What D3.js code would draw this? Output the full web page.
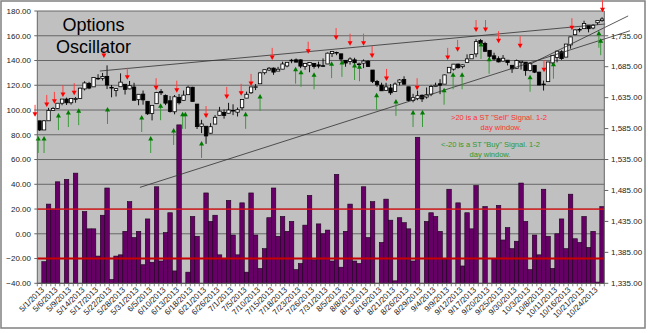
<!DOCTYPE html>
<html><head><meta charset="utf-8">
<script src="https://cdn.jsdelivr.net/npm/d3@7"></script>
<style>
html,body{margin:0;padding:0;background:#fff;}
svg{display:block;font-family:"Liberation Sans",Arial,sans-serif;}
</style></head><body>
<svg id="chart" width="648" height="333"></svg>
<script>
// Trading days, May 1 – Oct 28, 2013
const dates = ["5/1/2013","5/2/2013","5/3/2013","5/6/2013","5/7/2013","5/8/2013","5/9/2013","5/10/2013","5/13/2013","5/14/2013",
"5/15/2013","5/16/2013","5/17/2013","5/20/2013","5/21/2013","5/22/2013","5/23/2013","5/24/2013","5/28/2013","5/29/2013",
"5/30/2013","5/31/2013","6/3/2013","6/4/2013","6/5/2013","6/6/2013","6/7/2013","6/10/2013","6/11/2013","6/12/2013",
"6/13/2013","6/14/2013","6/17/2013","6/18/2013","6/19/2013","6/20/2013","6/21/2013","6/24/2013","6/25/2013","6/26/2013",
"6/27/2013","6/28/2013","7/1/2013","7/2/2013","7/3/2013","7/5/2013","7/8/2013","7/9/2013","7/10/2013","7/11/2013",
"7/12/2013","7/15/2013","7/16/2013","7/17/2013","7/18/2013","7/19/2013","7/22/2013","7/23/2013","7/24/2013","7/25/2013",
"7/26/2013","7/29/2013","7/30/2013","7/31/2013","8/1/2013","8/2/2013","8/5/2013","8/6/2013","8/7/2013","8/8/2013",
"8/9/2013","8/12/2013","8/13/2013","8/14/2013","8/15/2013","8/16/2013","8/19/2013","8/20/2013","8/21/2013","8/22/2013",
"8/23/2013","8/26/2013","8/27/2013","8/28/2013","8/29/2013","8/30/2013","9/3/2013","9/4/2013","9/5/2013","9/6/2013",
"9/9/2013","9/10/2013","9/11/2013","9/12/2013","9/13/2013","9/16/2013","9/17/2013","9/18/2013","9/19/2013","9/20/2013",
"9/23/2013","9/24/2013","9/25/2013","9/26/2013","9/27/2013","9/30/2013","10/1/2013","10/2/2013","10/3/2013","10/4/2013",
"10/7/2013","10/8/2013","10/9/2013","10/10/2013","10/11/2013","10/14/2013","10/15/2013","10/16/2013","10/17/2013","10/18/2013",
"10/21/2013","10/22/2013","10/23/2013","10/24/2013","10/25/2013","10/28/2013"];

// S&P 500 daily candles (right axis)
const open = [1597.55,1582.77,1597.60,1614.40,1617.55,1625.95,1632.69,1626.69,1632.10,1633.75,
1649.13,1658.07,1652.45,1665.71,1666.20,1669.39,1651.62,1646.67,1652.63,1656.57,
1649.14,1652.13,1631.71,1640.73,1629.05,1609.29,1625.27,1644.67,1638.64,1629.94,
1612.15,1635.52,1630.64,1639.77,1651.83,1624.62,1588.62,1588.77,1577.52,1592.27,
1606.44,1611.12,1609.78,1614.29,1611.48,1618.65,1634.20,1642.89,1652.09,1657.41,
1675.26,1679.59,1682.70,1677.91,1681.05,1686.15,1694.41,1696.06,1696.06,1685.21,
1687.31,1690.32,1687.92,1686.61,1689.42,1706.10,1708.01,1705.79,1695.30,1693.35,
1696.10,1688.37,1690.65,1693.88,1679.61,1661.22,1655.25,1646.81,1650.66,1645.03,
1659.92,1664.29,1652.54,1630.25,1633.50,1638.89,1635.95,1640.72,1653.28,1657.44,
1656.85,1675.11,1681.04,1689.21,1685.04,1691.70,1697.73,1705.74,1727.34,1722.44,
1711.44,1702.60,1698.02,1694.05,1695.52,1687.26,1682.41,1691.90,1692.35,1678.79,
1687.15,1676.22,1656.99,1660.88,1691.09,1699.86,1709.17,1700.49,1720.17,1736.72,
1745.20,1746.48,1752.27,1747.48,1756.01,1759.42];
const high = [1597.55,1598.60,1618.46,1619.77,1626.03,1632.78,1635.01,1633.70,1636.00,1651.10,
1661.49,1660.51,1667.47,1672.84,1674.93,1687.18,1655.50,1649.78,1674.21,1656.57,
1661.91,1658.99,1640.42,1646.53,1629.31,1622.56,1644.40,1648.69,1640.13,1637.71,
1639.25,1640.80,1646.50,1654.19,1652.45,1624.62,1599.19,1588.77,1593.79,1606.83,
1620.07,1615.94,1626.61,1624.26,1618.97,1632.07,1644.68,1652.36,1656.92,1676.63,
1680.19,1684.51,1683.73,1684.75,1693.12,1692.09,1697.61,1698.38,1696.81,1690.94,
1691.85,1690.92,1693.19,1698.43,1707.85,1709.67,1709.24,1705.79,1695.30,1700.18,
1699.42,1691.49,1696.81,1695.52,1679.61,1663.60,1659.18,1658.92,1656.99,1659.55,
1664.85,1669.51,1652.54,1641.18,1646.41,1640.08,1651.35,1655.72,1659.17,1664.83,
1672.40,1684.09,1689.13,1689.97,1688.73,1704.95,1705.52,1729.44,1729.86,1725.23,
1711.44,1707.63,1701.71,1703.85,1695.52,1687.26,1696.55,1693.87,1692.35,1691.94,
1687.15,1676.79,1662.47,1692.56,1703.44,1711.03,1711.57,1721.76,1733.45,1745.31,
1747.79,1759.33,1752.27,1753.94,1759.82,1764.99];
const low = [1581.28,1582.77,1597.60,1614.21,1616.64,1622.70,1623.09,1623.71,1626.74,1633.75,
1646.68,1648.60,1652.45,1663.52,1662.67,1648.86,1635.53,1636.88,1652.63,1640.05,
1648.61,1630.74,1622.72,1623.62,1607.09,1598.23,1625.27,1639.26,1622.92,1610.92,
1608.07,1623.96,1630.34,1639.77,1628.91,1584.32,1577.70,1560.33,1577.09,1592.27,
1606.44,1601.06,1609.78,1606.77,1604.57,1614.71,1634.20,1641.10,1647.17,1657.41,
1672.33,1677.89,1671.84,1677.91,1681.05,1684.08,1690.67,1692.13,1682.62,1680.07,
1676.03,1681.86,1682.42,1684.94,1689.42,1700.68,1703.55,1693.29,1684.91,1688.38,
1686.02,1683.35,1682.62,1684.83,1658.59,1652.61,1646.08,1646.08,1639.43,1645.03,
1654.81,1656.02,1629.05,1627.47,1630.88,1628.05,1633.41,1637.41,1653.07,1640.62,
1656.85,1675.11,1678.70,1681.96,1682.22,1691.70,1697.73,1700.35,1720.20,1708.89,
1697.10,1694.90,1691.88,1693.11,1687.11,1674.99,1682.07,1680.34,1670.36,1677.33,
1674.70,1655.03,1646.47,1660.88,1688.52,1692.13,1695.93,1700.49,1714.12,1735.74,
1740.67,1746.48,1740.50,1745.50,1752.45,1757.67];
const close = [1582.70,1597.59,1614.42,1617.50,1625.96,1632.69,1626.67,1633.70,1633.77,1650.34,
1658.78,1650.47,1667.47,1666.29,1669.16,1655.35,1650.51,1649.60,1660.06,1648.36,
1654.41,1630.74,1640.42,1631.38,1608.90,1622.56,1643.38,1642.81,1626.13,1612.52,
1636.36,1626.73,1639.04,1651.81,1628.93,1588.19,1592.43,1573.09,1588.03,1603.26,
1613.20,1606.28,1614.96,1614.08,1615.41,1631.89,1640.46,1652.32,1652.62,1675.02,
1680.19,1682.50,1676.26,1680.91,1689.37,1692.09,1695.53,1692.39,1685.94,1690.25,
1691.65,1685.33,1685.96,1685.73,1706.87,1709.67,1707.14,1697.37,1690.91,1697.48,
1691.42,1689.47,1694.16,1685.39,1661.32,1655.83,1646.06,1652.35,1642.80,1656.96,
1663.50,1656.78,1630.48,1634.96,1638.17,1632.97,1639.77,1653.08,1655.08,1655.17,
1671.71,1683.99,1689.13,1683.42,1687.99,1697.60,1704.76,1725.52,1722.34,1709.91,
1701.84,1697.42,1692.77,1698.67,1691.75,1681.55,1695.00,1693.87,1678.66,1690.50,
1676.12,1655.45,1656.40,1692.56,1703.20,1710.14,1698.06,1721.54,1733.15,1744.50,
1744.66,1754.67,1746.38,1752.07,1759.77,1762.11];

// Options oscillator readings (left axis); readings below -40 fall under the axis
const oscillator = [-42,-22.5,24,20,42,-42,44,-42,49,-42,
18,4,4,-18,15,37,-37,-18,-17,2,
26,-3,2,-25,12,-23,38,-22,1,17,
-30,88,-42,-31,14,-2,-42,33,10,15,
-17,-20,27,-1,-17,25,-31,33,-1,-28,
-12,13,37,-2,14,2,10,-29,-24,7,
31,-21,8,0,3,-22,48,-27,2,24,
-22,-24,38,-3,26,-42,-7,28,11,-38,
13,9,4,-22,78,-42,10,17,14,2,
-20,36,-42,25,-26,17,4,39,-42,22,
-42,-20,23,-5,5,-12,-6,41,10,-29,
-1,-17,36,-2,-28,0,12,-12,32,-4,
-7,14,-11,2,-39,22];

const leftTicks = [-40,-20,0,20,40,60,80,100,120,140,160,180];
const rightTicks = [1335,1385,1435,1485,1535,1585,1635,1685,1735];
const signalLevels = [20,-20];

// Short-term signal arrows: position (trading-day index) and tip price
const sellIdx   = [-1.0,1.6,3.3,5.2,7.7,14.3,19.5,25.9,30.5,37.0,41.6,44.8,47.0,51.7,59.7,65.9,69.0,72.0,73.9,77.1,83.9,90.7,92.9,97.0,99.1,102.0,106.8,112.1,118.3,125.1];
const sellPrice = [1604,1620,1625,1636,1639,1699,1664,1647,1643,1602,1633,1638,1654,1696,1706,1728,1719,1719,1699,1662,1647,1696,1709,1741,1741,1723,1715,1676,1744,1773];
const buyIdx    = [-0.3,1.0,4.2,6.4,8.7,15.1,22.7,24.7,26.9,29.8,31.8,32.4,36.0,45.8,49.0,56.9,58.1,61.0,64.9,67.2,70.0,71.1,74.9,79.2,83.0,85.1,89.9,91.9,93.9,98.1,99.9,109.0,114.2,124.3,124.7];
const buyPrice  = [1573,1573,1610,1615,1618,1620,1607,1573,1626,1586,1612,1612,1565,1612,1641,1685,1680,1676,1694,1696,1691,1689,1643,1633,1615,1615,1651,1676,1676,1725,1701,1672,1693,1743,1731];

// Hand-drawn trend lines: [fromIdx, fromPrice, toIdx, toPrice]
const trendFromIdx   = [13.4, 22.3, 109.0];
const trendFromPrice = [1678, 1490, 1689];
const trendToIdx     = [125.7, 131.2, 130.8];
const trendToPrice   = [1754, 1743, 1767];

const W = 648, H = 333;
const plot = {left: 37.3, right: 604.3, top: 11, bottom: 283.3};

const svg = d3.select("#chart");
const x = d3.scaleLinear().domain([-0.5, dates.length - 0.5]).range([plot.left, plot.right]);
const yL = d3.scaleLinear().domain([-40, 180]).range([plot.bottom, plot.top]);
const yR = d3.scaleLinear().domain([1335, 1775]).range([plot.bottom, plot.top]);
const band = x(1) - x(0);

svg.append("rect").attr("width", W).attr("height", H).attr("fill", "#fff");
svg.append("rect").attr("x", 1).attr("y", 1).attr("width", 644).attr("height", 327)
  .attr("fill", "none").attr("stroke", "#808080").attr("stroke-width", 1.5);

svg.append("defs").append("clipPath").attr("id", "plotClip")
  .append("rect").attr("x", plot.left).attr("y", plot.top)
  .attr("width", plot.right - plot.left).attr("height", plot.bottom - plot.top);

svg.append("rect").attr("x", plot.left).attr("y", plot.top)
  .attr("width", plot.right - plot.left).attr("height", plot.bottom - plot.top)
  .attr("fill", "#c0c0c0");

// gridlines
svg.append("g").selectAll("line").data(leftTicks).join("line")
  .attr("x1", plot.left).attr("x2", plot.right)
  .attr("y1", d => yL(d)).attr("y2", d => yL(d))
  .attr("stroke", "#666").attr("stroke-width", 1);

// oscillator columns, rising from the bottom of the axis
const cols = svg.append("g").attr("clip-path", "url(#plotClip)");
cols.selectAll("rect").data(oscillator.map((v, i) => ({v, i})).filter(d => d.v > -40)).join("rect")
  .attr("x", d => x(d.i) - band / 2).attr("width", band)
  .attr("y", d => yL(d.v)).attr("height", d => yL(-40) - yL(d.v))
  .attr("fill", "#660066").attr("stroke", "#1a001a").attr("stroke-width", 0.6);

// signal thresholds
svg.append("line").attr("x1", plot.left).attr("x2", plot.right)
  .attr("y1", yL(signalLevels[0])).attr("y2", yL(signalLevels[0]))
  .attr("stroke", "#e81010").attr("stroke-width", 1.3);
svg.append("line").attr("x1", plot.left).attr("x2", plot.right)
  .attr("y1", yL(signalLevels[1])).attr("y2", yL(signalLevels[1]))
  .attr("stroke", "#c80000").attr("stroke-width", 2);

// candlesticks
const candles = svg.append("g");
const bodyW = 3.4;
dates.forEach((d, i) => {
  const cx = x(i);
  candles.append("line").attr("x1", cx).attr("x2", cx)
    .attr("y1", yR(high[i])).attr("y2", yR(low[i]))
    .attr("stroke", "#000").attr("stroke-width", 0.9);
  const top = yR(Math.max(open[i], close[i]));
  const bot = yR(Math.min(open[i], close[i]));
  candles.append("rect").attr("x", cx - bodyW / 2).attr("width", bodyW)
    .attr("y", top).attr("height", Math.max(bot - top, 0.6))
    .attr("fill", close[i] >= open[i] ? "#fff" : "#000")
    .attr("stroke", "#000").attr("stroke-width", 0.8);
});

// trend lines
svg.append("g").selectAll("line").data(trendFromIdx).join("line")
  .attr("x1", (d, k) => x(d)).attr("y1", (d, k) => yR(trendFromPrice[k]))
  .attr("x2", (d, k) => x(trendToIdx[k])).attr("y2", (d, k) => yR(trendToPrice[k]))
  .attr("stroke", "#303030").attr("stroke-width", 0.8);

// sell arrows (pointing down)
const arrows = svg.append("g");
sellIdx.forEach((s, k) => {
  const ax = x(s), ty = yR(sellPrice[k]);
  arrows.append("line").attr("x1", ax).attr("x2", ax).attr("y1", ty - 12).attr("y2", ty - 3)
    .attr("stroke", "#ff4040").attr("stroke-width", 1);
  arrows.append("path").attr("d", `M${ax - 2.5},${ty - 4.5}L${ax + 2.5},${ty - 4.5}L${ax},${ty}Z`)
    .attr("fill", "#ff0000");
});
// buy arrows (pointing up)
buyIdx.forEach((b, k) => {
  const ax = x(b), ty = yR(buyPrice[k]);
  arrows.append("line").attr("x1", ax).attr("x2", ax).attr("y1", ty + 17).attr("y2", ty + 3)
    .attr("stroke", "#3a9a3a").attr("stroke-width", 1);
  arrows.append("path").attr("d", `M${ax - 2.5},${ty + 4.5}L${ax + 2.5},${ty + 4.5}L${ax},${ty}Z`)
    .attr("fill", "#007a00");
});

// axes
svg.append("line").attr("x1", plot.left).attr("x2", plot.left).attr("y1", plot.top).attr("y2", plot.bottom)
  .attr("stroke", "#666");
svg.append("line").attr("x1", plot.right).attr("x2", plot.right).attr("y1", plot.top).attr("y2", plot.bottom)
  .attr("stroke", "#666");
svg.append("line").attr("x1", plot.left).attr("x2", plot.right).attr("y1", plot.bottom).attr("y2", plot.bottom)
  .attr("stroke", "#555");

svg.append("g").selectAll("text").data(leftTicks).join("text")
  .attr("x", 31).attr("y", d => yL(d)).attr("dy", "0.35em")
  .attr("text-anchor", "end").attr("font-size", 8).attr("fill", "#222")
  .text(d => d3.format(".2f")(d));
svg.append("g").selectAll("line").data(leftTicks).join("line")
  .attr("x1", plot.left - 3).attr("x2", plot.left).attr("y1", d => yL(d)).attr("y2", d => yL(d))
  .attr("stroke", "#666");

svg.append("g").selectAll("line").data(rightTicks).join("line")
  .attr("x1", plot.right).attr("x2", plot.right + 4).attr("y1", d => yR(d)).attr("y2", d => yR(d))
  .attr("stroke", "#666");
svg.append("g").selectAll("text").data(rightTicks).join("text")
  .attr("x", 611).attr("y", d => yR(d)).attr("dy", "0.35em")
  .attr("text-anchor", "start").attr("font-size", 8).attr("fill", "#222")
  .text(d => d3.format(",.2f")(d));

// category ticks between days
svg.append("g").selectAll("line").data(d3.range(dates.length + 1)).join("line")
  .attr("x1", d => x(d - 0.5)).attr("x2", d => x(d - 0.5))
  .attr("y1", plot.bottom).attr("y2", plot.bottom + 3)
  .attr("stroke", "#666").attr("stroke-width", 0.8);

const labelIdx = d3.range(0, dates.length, 3);
svg.append("g").selectAll("text").data(labelIdx).join("text")
  .attr("transform", i => `translate(${x(i) + 3},${plot.bottom + 5}) rotate(-45)`)
  .attr("text-anchor", "end").attr("dy", "0.35em")
  .attr("font-size", 8).attr("fill", "#222")
  .text(i => dates[i]);

// annotations
const title = svg.append("text").attr("x", 93.5).attr("font-size", 18).attr("text-anchor", "middle").attr("fill", "#000");
title.append("tspan").attr("x", 93.5).attr("y", 31).text("Options");
title.append("tspan").attr("x", 93.5).attr("y", 52.5).text("Oscillator");

const sellNote = svg.append("text").attr("font-size", 7.5).attr("text-anchor", "middle").attr("fill", "#ff3030");
sellNote.append("tspan").attr("x", 499).attr("y", 120).text(">20 is a ST \"Sell\" Signal.  1-2");
sellNote.append("tspan").attr("x", 501).attr("y", 129.5).text("day window.");

const buyNote = svg.append("text").attr("font-size", 7.5).attr("text-anchor", "middle").attr("fill", "#2e9a2e");
buyNote.append("tspan").attr("x", 490.5).attr("y", 147).text("<-20 is a ST \"Buy\" Signal.  1-2");
buyNote.append("tspan").attr("x", 490).attr("y", 156.5).text("day window.");
</script>
</body></html>
